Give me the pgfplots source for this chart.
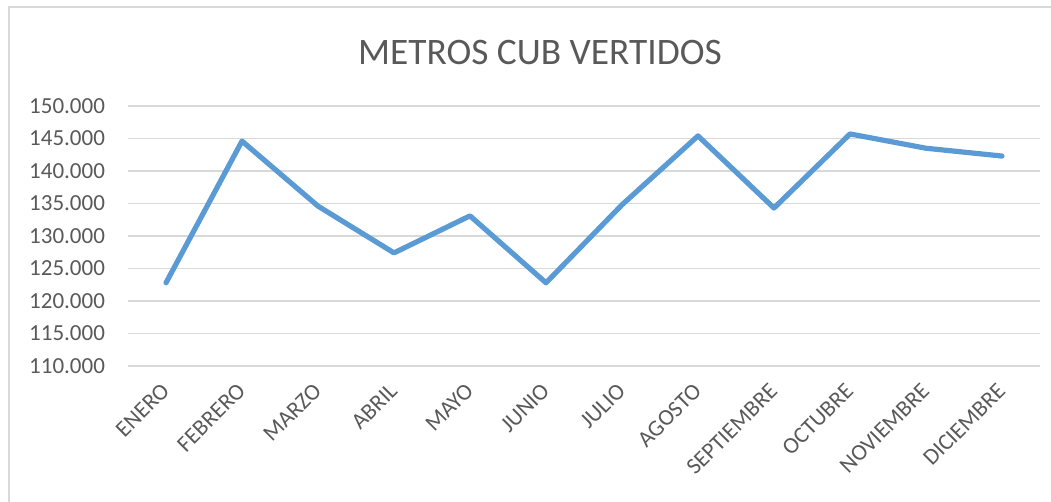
\documentclass[border=0pt]{standalone}
\usepackage{pgfplots}
\pgfplotsset{compat=1.18}
\usepackage{fontspec}
\setmainfont{Carlito}
\definecolor{txt}{HTML}{595959}
\definecolor{gridc}{HTML}{D9D9D9}
\definecolor{linec}{HTML}{5B9BD5}
\begin{document}
\begin{tikzpicture}
\path[use as bounding box] (0,0) rectangle (525.5pt,251pt);
\draw[gridc, line width=0.8pt] (4.5pt,-2pt) -- (4.5pt,247.5pt) -- (527pt,247.5pt);
\node[txt, font=\fontsize{18.7}{21}\selectfont] at (270pt,224.75pt) {METROS CUB VERTIDOS};
\begin{axis}[
  at={(64pt,68pt)}, anchor=south west,
  scale only axis, width=456pt, height=130pt,
  xmin=-0.5, xmax=11.5, ymin=110000, ymax=150000,
  ytick={110000,115000,...,150000},
  xtick={0,...,11},
  xticklabels={ENERO,FEBRERO,MARZO,ABRIL,MAYO,JUNIO,JULIO,AGOSTO,SEPTIEMBRE,OCTUBRE,NOVIEMBRE,DICIEMBRE},
  axis line style={draw=none},
  major tick length=0pt,
  xmajorgrids=false,
  ymajorgrids=true, grid style={draw=gridc, line width=0.8pt},
  tick label style={text=txt, font=\fontsize{11.5}{13}\selectfont},
  yticklabel style={xshift=-8pt},
  xticklabel style={xshift=-3pt, yshift=-3pt, rotate=45, anchor=north east},
  /pgf/number format/.cd, fixed, 1000 sep={.}, assume math mode=true,
  scaled y ticks=false,
  clip=false,
]
\addplot[draw=linec, line width=2.6pt, line join=round, line cap=round] coordinates {
(0,122800) (1,144600) (2,134600) (3,127400) (4,133100) (5,122800)
(6,134800) (7,145400) (8,134300) (9,145700) (10,143500) (11,142300)};
\end{axis}
\end{tikzpicture}
\end{document}
